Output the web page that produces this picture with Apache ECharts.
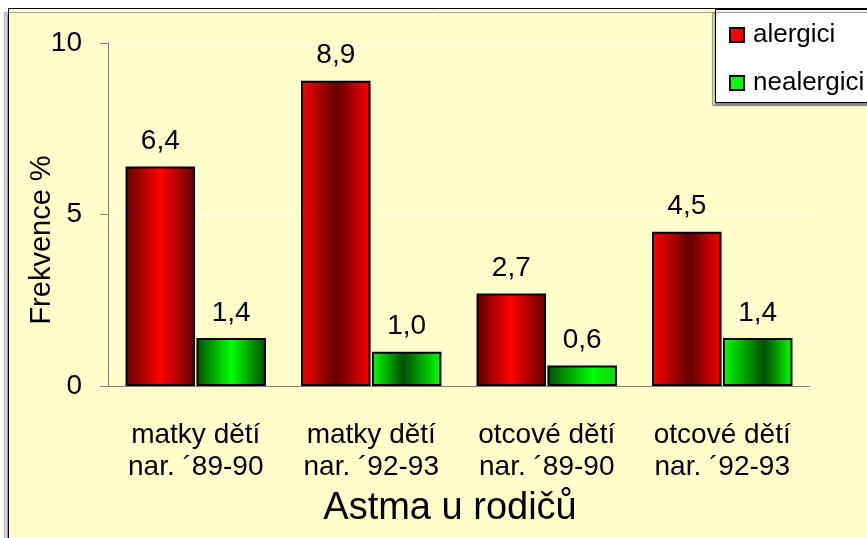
<!DOCTYPE html>
<html>
<head>
<meta charset="utf-8">
<script src="https://cdn.jsdelivr.net/npm/echarts@6/dist/echarts.min.js"></script>
<style>
  html, body { margin: 0; padding: 0; background: #ffffff; }
  #main { width: 867px; height: 538px; }
</style>
</head>
<body>
<div id="main"></div>
<script>
// data
var categories = ['matky dětí\nnar. ´89-90', 'matky dětí\nnar. ´92-93', 'otcové dětí\nnar. ´89-90', 'otcové dětí\nnar. ´92-93'];
var alergici = [6.4, 8.9, 2.7, 4.5];
var nealergici = [1.4, 1.0, 0.6, 1.4];
var yTicks = [0, 5, 10];

var FONT = 'Arial, "Liberation Sans", sans-serif';

// stin sloupcu - kazdy sloupec ma trochu jiny prechod
function grad(stops) {
  return new echarts.graphic.LinearGradient(0, 0, 1, 0, stops.map(function (s) {
    return { offset: s[0], color: s[1] };
  }));
}
var RD = '#620000', RB = '#ff0000', GD = '#005000', GB = '#00ff00';
var redStops = [
  [[0, RD], [0.5, RB], [1, RD]],
  [[0, RB], [0.5, RD], [1, RB]],
  [[0, RD], [0.5, RB], [1, RD]],
  [[0, RB], [0.55, RD], [1, RB]]
];
var greenStops = [
  [[0, GD], [0.5, GB], [1, GD]],
  [[0, GB], [0.45, GD], [1, GB]],
  [[0, GD], [0.65, GB], [1, '#10d010']],
  [[0, GB], [0.6, GD], [1, GB]]
];

function fmt(p) {
  return p.value.toFixed(1).replace('.', ',');
}

var chart = echarts.init(document.getElementById('main'));

var option = {
  backgroundColor: '#ffffff',
  animation: false,
  textStyle: { fontFamily: FONT },
  graphic: [
    {
      type: 'rect', z: -10,
      shape: { x: 8.5, y: 8.5, width: 900, height: 600 },
      style: { fill: '#ffffcc', stroke: '#000', lineWidth: 1, shadowColor: '#999', shadowOffsetX: -4, shadowOffsetY: 4, shadowBlur: 1 }
    },
    {
      type: 'rect', z: 1,
      shape: { x: 715.5, y: 9.5, width: 200, height: 93 },
      style: { fill: '#ffffff', stroke: '#000', lineWidth: 1, shadowColor: '#888', shadowOffsetX: -3, shadowOffsetY: 3, shadowBlur: 1 }
    },
    {
      type: 'text', z: 5,
      x: 42, y: 240, rotation: Math.PI / 2,
      style: { text: 'Frekvence %', font: '29px ' + FONT, fill: '#000', align: 'center', verticalAlign: 'middle' }
    }
  ],
  legend: {
    orient: 'vertical',
    left: 729, top: 20,
    padding: 0,
    z: 10,
    itemWidth: 14, itemHeight: 14,
    itemGap: 18,
    icon: 'rect',
    textStyle: { fontSize: 26, lineHeight: 30, color: '#000', fontFamily: FONT, padding: [0, 0, 0, 4] },
    data: ['alergici', 'nealergici']
  },
  grid: { left: 108, right: 57, top: 43, bottom: 152 },
  xAxis: {
    type: 'category',
    data: categories,
    name: 'Astma u rodičů',
    nameLocation: 'middle',
    nameGap: 104,
    nameTextStyle: { fontSize: 38, color: '#000', fontFamily: FONT, padding: [0, 18, 0, 0] },
    axisLine: { lineStyle: { color: '#808080', width: 1 } },
    axisTick: { length: 8, interval: 0, lineStyle: { color: '#000' } },
    axisLabel: { fontSize: 28, lineHeight: 32, color: '#000', margin: 33, interval: 0, fontFamily: FONT }
  },
  yAxis: {
    type: 'value',
    min: yTicks[0], max: yTicks[yTicks.length - 1], interval: 5,
    axisLine: { show: true, lineStyle: { color: '#808080', width: 1 } },
    axisTick: { show: true, length: 8, lineStyle: { color: '#808080' } },
    axisLabel: { fontSize: 28, color: '#000', margin: 26, fontFamily: FONT },
    splitLine: { lineStyle: { color: '#ffffff', width: 1 } }
  },
  series: [
    {
      name: 'alergici',
      type: 'bar',
      barCategoryGap: '20%',
      barGap: '2%',
      itemStyle: { color: '#ff0000', borderColor: '#000', borderWidth: 2 },
      label: { show: true, position: 'top', distance: 11, fontSize: 28, color: '#000', fontFamily: FONT, formatter: fmt },
      data: alergici.map(function (v, i) {
        return { value: v, itemStyle: { color: grad(redStops[i]) } };
      })
    },
    {
      name: 'nealergici',
      type: 'bar',
      barCategoryGap: '20%',
      barGap: '2%',
      itemStyle: { color: '#00ff00', borderColor: '#000', borderWidth: 2 },
      label: { show: true, position: 'top', distance: 11, fontSize: 28, color: '#000', fontFamily: FONT, formatter: fmt },
      data: nealergici.map(function (v, i) {
        return { value: v, itemStyle: { color: grad(greenStops[i]) } };
      })
    }
  ]
};

chart.setOption(option);
</script>
</body>
</html>
